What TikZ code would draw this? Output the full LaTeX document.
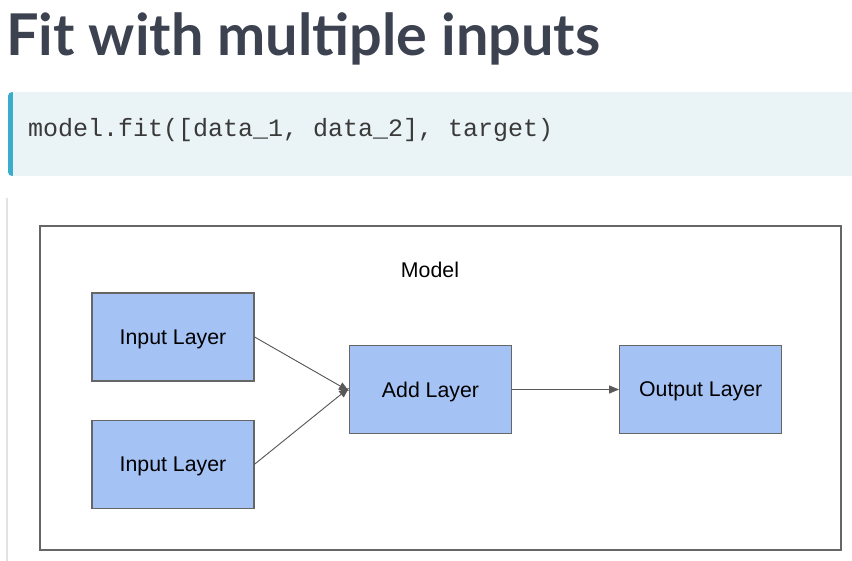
\documentclass[tikz,border=0pt]{standalone}
\usepackage{fontspec}
\setmainfont{Liberation Sans}
\newfontfamily\titlefont{Lato}
\newfontfamily\codefont{Liberation Mono}
\usetikzlibrary{positioning,arrows.meta}

\definecolor{titlegray}{HTML}{3D4251}
\definecolor{codebg}{HTML}{EAF3F6}
\definecolor{codebar}{HTML}{3AACCC}
\definecolor{codetext}{HTML}{3A3A3A}
\definecolor{layerblue}{HTML}{A4C2F4}
\definecolor{edgegray}{HTML}{666666}
\definecolor{arrowgray}{HTML}{595959}
\definecolor{quotegray}{HTML}{E2E2E2}

\begin{document}
\begin{tikzpicture}[
        x=1pt, y=-1pt,
        every node/.style={font=\fontsize{21.3}{24}\selectfont},
        layer/.style={draw=edgegray, line width=1.2pt, fill=layerblue, minimum width=162pt, minimum height=88pt, inner sep=0pt, text depth=0pt},
        frame/.style={draw=edgegray, line width=1.2pt, minimum width=801pt, minimum height=324pt, inner sep=0pt},
        arrow/.style={-{Triangle[length=10pt,width=8pt]}, line width=0.9pt, draw=arrowgray, fill=arrowgray}
    ]
    \useasboundingbox (0,0) rectangle (852,561);

    % Title
    \node[anchor=base west, inner sep=0pt, text=titlegray, font=\titlefont\bfseries\fontsize{57.6}{60}\selectfont] (title) at (6,56) {Fit with multiple inputs};

    % Code block
    \fill[codebar, rounded corners=4pt] (8,92) rectangle (16,176);
    \fill[codebg] (13,92) rectangle (852,176);
    \node[anchor=base west, inner sep=0pt, text=codetext, font=\codefont\fontsize{25}{28}\selectfont] (code) at (28,137) {model.fit([data\_1, data\_2], target)};

    % Quote rule
    \draw[quotegray, line width=2pt] (7,198) -- (7,561);

    % Model frame
    \node[frame] (model) at (440.5,388) {};
    \node (modellabel) at (430,270) {Model};

    % Layers
    \node[layer] (in1) at (173,337) {Input Layer};
    \node[layer, below=38pt of in1] (in2) {Input Layer};
    \node[layer] (add) at (430.5,389.5) {Add Layer};
    \node[layer, right=107pt of add] (out) {Output Layer};

    % Arrows
    \draw[arrow] (in1.east) -- ([yshift=-1.5pt]add.west);
    \draw[arrow] (in2.east) -- ([yshift=1.5pt]add.west);
    \draw[arrow] (add) -- (out);

\end{tikzpicture}
\end{document}
